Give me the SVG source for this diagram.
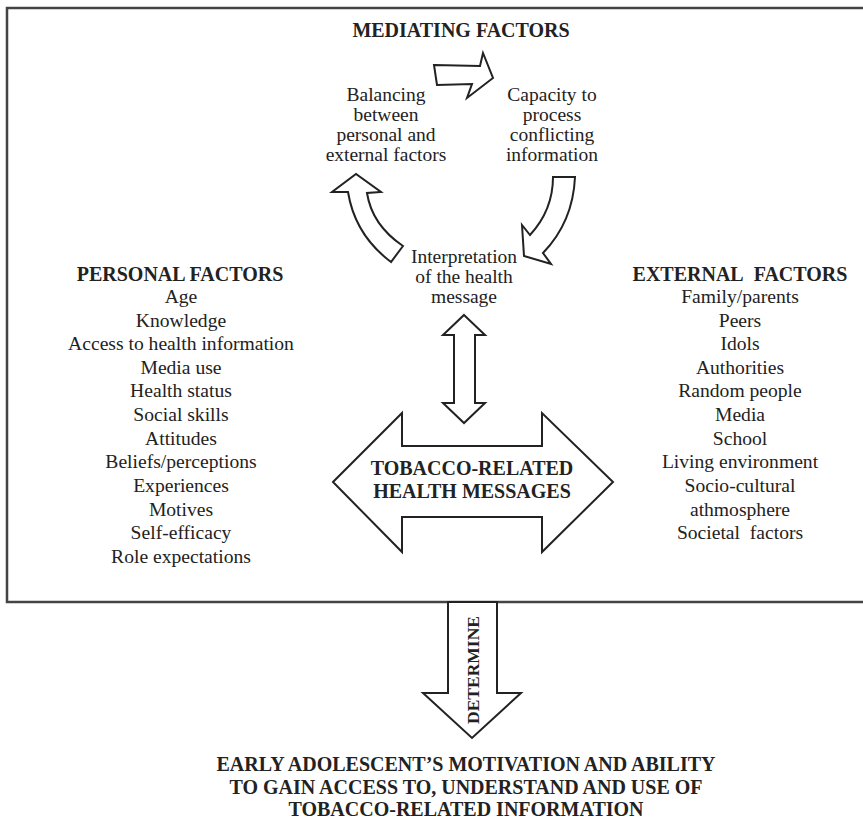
<svg xmlns="http://www.w3.org/2000/svg" width="863" height="820" viewBox="0 0 863 820">
<style>
text{font-family:"Liberation Serif","Times New Roman",serif;fill:#222;text-anchor:middle}
.h{font-weight:bold;font-size:20px}
.i{font-size:19.6px}
.m{font-size:19.5px}
.big{font-weight:bold;font-size:20px}
.ar{fill:#fff;stroke:#222;stroke-width:2;stroke-linejoin:miter}
</style>
<rect x="7" y="8" width="900" height="594" fill="#fff" stroke="#444" stroke-width="2.5"/>
<g id="mediating">
<text class="h" x="461" y="37">MEDIATING FACTORS</text>
</g>
<g id="balancing">
<text class="m" x="386" y="101">Balancing</text>
<text class="m" x="386" y="121">between</text>
<text class="m" x="386" y="141">personal and</text>
<text class="m" x="386" y="161">external factors</text>
</g>
<g id="capacity">
<text class="m" x="552" y="101">Capacity to</text>
<text class="m" x="552" y="121">process</text>
<text class="m" x="552" y="141">conflicting</text>
<text class="m" x="552" y="161">information</text>
</g>
<g id="interpretation">
<text class="m" x="464" y="263">Interpretation</text>
<text class="m" x="464" y="283">of the health</text>
<text class="m" x="464" y="303">message</text>
</g>
<g id="personal">
<text class="h" x="180" y="281">PERSONAL FACTORS</text>
<text class="i" x="181" y="303">Age</text>
<text class="i" x="181" y="327">Knowledge</text>
<text class="i" x="181" y="350">Access to health information</text>
<text class="i" x="181" y="374">Media use</text>
<text class="i" x="181" y="397">Health status</text>
<text class="i" x="181" y="421">Social skills</text>
<text class="i" x="181" y="445">Attitudes</text>
<text class="i" x="181" y="468">Beliefs/perceptions</text>
<text class="i" x="181" y="492">Experiences</text>
<text class="i" x="181" y="516">Motives</text>
<text class="i" x="181" y="539">Self-efficacy</text>
<text class="i" x="181" y="563">Role expectations</text>
</g>
<g id="external">
<text class="h" x="740" y="281">EXTERNAL&#160; FACTORS</text>
<text class="i" x="740" y="303">Family/parents</text>
<text class="i" x="740" y="327">Peers</text>
<text class="i" x="740" y="350">Idols</text>
<text class="i" x="740" y="374">Authorities</text>
<text class="i" x="740" y="397">Random people</text>
<text class="i" x="740" y="421">Media</text>
<text class="i" x="740" y="445">School</text>
<text class="i" x="740" y="468">Living environment</text>
<text class="i" x="740" y="492">Socio-cultural</text>
<text class="i" x="740" y="516">athmosphere</text>
<text class="i" x="740" y="539">Societal&#160; factors</text>
</g>
<g id="messages">
<polygon class="ar" points="333,482 402,413 402,446 542,446 542,413 613,482 542,552 542,517 402,517 402,552"/>
<text class="big" x="472" y="475">TOBACCO-RELATED</text>
<text class="big" x="472" y="498">HEALTH MESSAGES</text>
</g>
<g id="outcome">
<text class="h" x="466" y="771">EARLY ADOLESCENT’S MOTIVATION AND ABILITY</text>
<text class="h" x="466" y="794">TO GAIN ACCESS TO, UNDERSTAND AND USE OF</text>
<text class="h" x="466" y="816">TOBACCO-RELATED INFORMATION</text>
</g>
<g id="connectors">
<polygon class="ar" points="434,65 480,66 483,53 493,78 467,98 472,84 437,85"/>
<path class="ar" d="M553,177 L575,177 Q573,222 543,253 L551,264 L524,256 L522,225 L530,235 Q553,210 553,177 Z"/>
<path class="ar" d="M403,246 L391,262 Q355,235 348,192 L332,192 L356,174 L381,192 L367,193 Q372,225 403,246 Z"/>
<polygon class="ar" points="464,315 485,335 475,335 475,403 485,403 464,423 443,403 454,403 454,335 443,335"/>
<polygon class="ar" points="448,602 497,602 497,693 521,693 472,738 423,693 448,693"/>
<text class="h" transform="translate(479,670) rotate(-90)" x="0" y="0" style="font-size:17.5px">DETERMINE</text>
</g>
</svg>
